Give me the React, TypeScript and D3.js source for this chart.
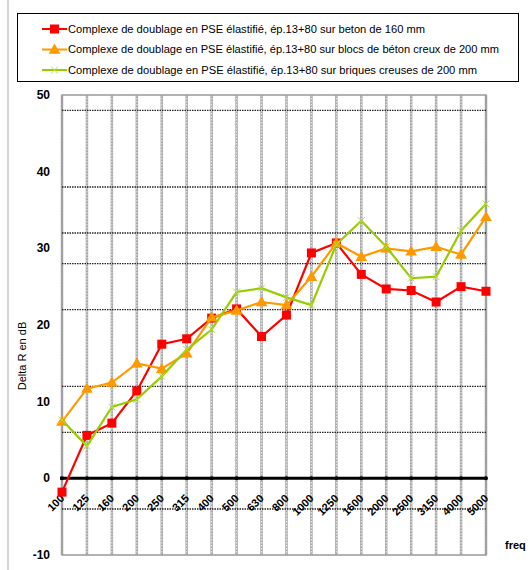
import * as d3 from 'd3';

const freqs = ['100', '125', '160', '200', '250', '315', '400', '500', '630', '800', '1000', '1250', '1600', '2000', '2500', '3150', '4000', '5000'];
const surBeton = [-1.8, 5.6, 7.2, 11.4, 17.5, 18.2, 20.9, 22.1, 18.5, 21.3, 29.4, 30.7, 26.6, 24.7, 24.5, 23.0, 25.0, 24.4];
const surBlocs = [7.4, 11.7, 12.5, 15.0, 14.3, 16.3, 21.0, 21.9, 23.0, 22.6, 26.3, 30.7, 28.9, 30.0, 29.6, 30.2, 29.2, 34.1];
const surBriques = [7.6, 4.2, 9.3, 10.3, 13.3, 16.8, 19.4, 24.3, 24.8, 23.6, 22.6, 30.5, 33.6, 30.2, 26.1, 26.3, 32.3, 35.8];
const yTicks = [-10, 0, 10, 20, 30, 40, 50];
const gridLevels = [48, 38, 32, 28, 22, 12, 6, -4];
const legendLabels = [
  'Complexe de doublage en PSE élastifié, ép.13+80 sur beton de 160 mm',
  'Complexe de doublage en PSE élastifié, ép.13+80 sur blocs de béton creux de 200 mm',
  'Complexe de doublage en PSE élastifié, ép.13+80 sur briques creuses de 200 mm',
];
const legendWidths = [357, 431, 409];

const series = [
  { values: surBeton, color: '#ff0000', marker: 'square' },
  { values: surBlocs, color: '#ff9900', marker: 'triangle' },
  { values: surBriques, color: '#99cc00', marker: 'cross' },
];

const W = 530;
const H = 570;
const font = '"Liberation Sans", Arial, sans-serif';

function Marker({ type, x, y, color }: { type: string; x: number; y: number; color: string }) {
  if (type === 'square') return <rect x={x - 4.5} y={y - 4.5} width={9} height={9} fill={color} />;
  if (type === 'triangle') {
    const p = d3.symbol(d3.symbolTriangle, 60)() as string;
    return <path d={p} transform={`translate(${x},${y + 0.8})`} fill={color} />;
  }
  return (
    <g stroke="#b8dd44" strokeWidth={1}>
      <line x1={x - 3.5} y1={y - 3.5} x2={x + 3.5} y2={y + 3.5} />
      <line x1={x - 3.5} y1={y + 3.5} x2={x + 3.5} y2={y - 3.5} />
    </g>
  );
}

export default function App() {
  const x = d3.scalePoint<string>().domain(freqs).range([62, 486]);
  const y = d3.scaleLinear().domain([-10, 50]).range([555, 95]);
  const line = d3.line<number>()
    .x((_, i) => x(freqs[i]) as number)
    .y(d => y(d));

  return (
    <svg width={W} height={H} style={{ position: 'absolute', left: 0, top: 0, background: '#fff' }} fontFamily={font}>
      <line x1={8} x2={8} y1={0} y2={H} stroke="#aaa" strokeWidth={1} />

      {/* legend */}
      <rect x={17.5} y={13.5} width={501} height={68} fill="#fff" stroke="#000" strokeWidth={1} />
      {series.map((s, i) => {
        const ly = 29 + i * 20.5;
        return (
          <g key={i}>
            <line x1={42} x2={67} y1={ly} y2={ly} stroke={s.color} strokeWidth={2} />
            <Marker type={s.marker} x={54.5} y={ly} color={s.color} />
            <text x={68} y={ly + 3.6} fontSize={10} textLength={legendWidths[i]} lengthAdjust="spacingAndGlyphs" fill="#000">
              {legendLabels[i]}
            </text>
          </g>
        );
      })}

      {/* vertical grid */}
      {freqs.map(f => (
        <g key={f}>
          <line x1={x(f)} x2={x(f)} y1={95} y2={555} stroke="#a8a8a8" strokeWidth={2.5} />
          <line x1={x(f)} x2={x(f)} y1={95} y2={555} stroke="#fff" strokeWidth={0.8} strokeDasharray="1.5,1.5" />
        </g>
      ))}
      <rect x={62} y={95} width={424} height={460} fill="none" stroke="#999" strokeWidth={1.5} />

      {/* horizontal grid */}
      {gridLevels.map(v => (
        <line key={v} x1={62} x2={486} y1={y(v)} y2={y(v)} stroke="#222" strokeWidth={1.3} strokeDasharray="1.5,1" />
      ))}

      {/* zero line */}
      <line x1={60} x2={487} y1={y(0)} y2={y(0)} stroke="#000" strokeWidth={3} />
      {freqs.map(f => (
        <circle key={f} cx={x(f)} cy={y(0)} r={2} fill="#000" />
      ))}

      {/* y axis labels */}
      {yTicks.map(t => (
        <text key={t} x={50} y={y(t) + 4} textAnchor="end" fontSize={12} fontWeight="bold" fill="#000">
          {t}
        </text>
      ))}
      <text transform={`translate(26,356) rotate(-90)`} textAnchor="middle" fontSize={11} fill="#000">
        Delta R en dB
      </text>

      {/* x axis labels */}
      {freqs.map(f => (
        <text key={f} transform={`translate(${(x(f) as number) + 3},499) rotate(-45)`} textAnchor="end" fontSize={11} fontWeight="bold" fill="#000">
          {f}
        </text>
      ))}
      <text x={505} y={549} fontSize={11} fontWeight="bold" fill="#000">freq</text>

      {/* series */}
      {series.map((s, i) => (
        <g key={i}>
          <path d={line(s.values) as string} fill="none" stroke={s.color} strokeWidth={2.2} />
          {s.values.map((v, j) => (
            <Marker key={j} type={s.marker} x={x(freqs[j]) as number} y={y(v)} color={s.color} />
          ))}
        </g>
      ))}
    </svg>
  );
}
